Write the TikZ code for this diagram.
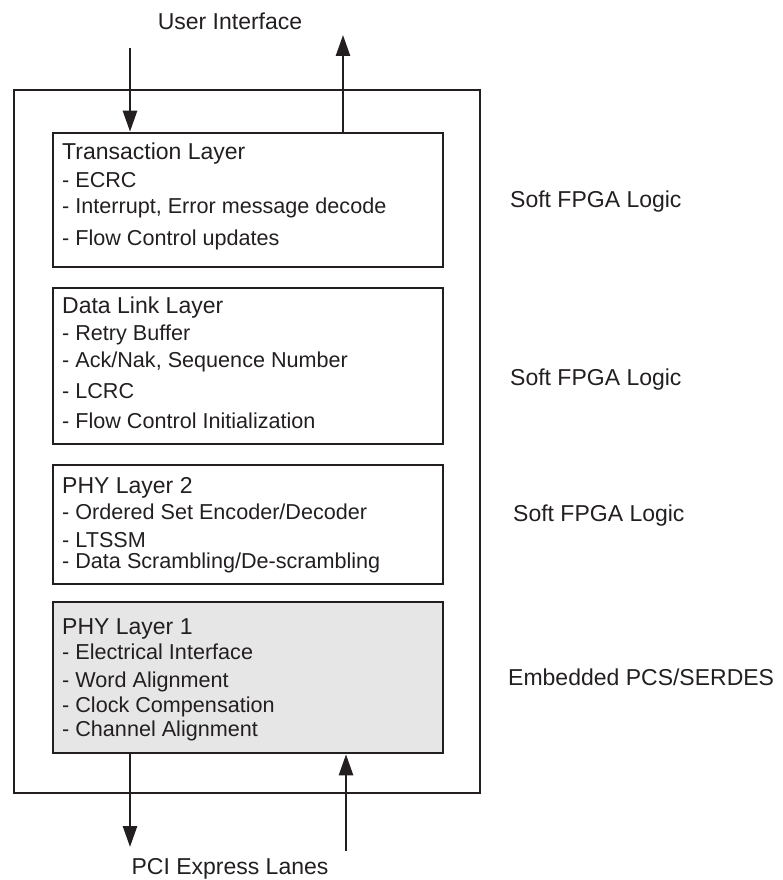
\documentclass[tikz,border=0pt]{standalone}
\usepackage{fontspec}
\setmainfont{Liberation Sans}
\usetikzlibrary{arrows.meta}
\definecolor{ink}{HTML}{231F20}
\definecolor{pcsgray}{HTML}{E6E6E6}
\tikzset{
  layer/.style={draw=ink, line width=2.6pt, minimum width=390pt, inner sep=0pt},
  ln/.style={anchor=base west, inner sep=0pt, text=ink, font=\fontsize{21.6}{26}\selectfont},
  ttl/.style={anchor=base west, inner sep=0pt, text=ink},
  side/.style={anchor=base west, inner sep=0pt, text=ink},
}
\begin{document}
\begin{tikzpicture}[x=1pt, y=-1pt, font=\fontsize{23}{27}\selectfont, line join=miter, >={Triangle[length=21pt,width=14pt]}]
\useasboundingbox (0,0) rectangle (783,880);
	% outer device and the four layers
	\node[draw=ink, line width=2.6pt, minimum width=466pt, minimum height=703pt] (fpga) at (247,441.5) {};
	\node[layer, minimum height=134pt] (tl) at (248,200) {};
	\node[layer, minimum height=156pt] (dll) at (248,366) {};
	\node[layer, minimum height=119pt] (phy2) at (248,524.5) {};
	\node[layer, minimum height=151pt, fill=pcsgray] (phy1) at (248,677.5) {};
	\node[ttl] (tltitle) at (62,159) {Transaction Layer};
	\foreach \y/\t in {187/{- ECRC}, 213/{- Interrupt, Error message decode}, 245/{- Flow Control updates}}
		\node[ln] (tl\y) at (62,\y) {\t};
	\node[ttl] (dlltitle) at (62,313) {Data Link Layer};
	\foreach \y/\t in {340/{- Retry Buffer}, 367/{- Ack/Nak, Sequence Number}, 398/{- LCRC}, 428/{- Flow Control Initialization}}
		\node[ln] (dll\y) at (62,\y) {\t};
	\node[ttl] (phybtitle) at (62,493) {PHY Layer 2};
	\foreach \y/\t in {519/{- Ordered Set Encoder/Decoder}, 547/{- LTSSM}, 568/{- Data Scrambling/De-scrambling}}
		\node[ln] (phyb\y) at (62,\y) {\t};
	\node[ttl] (phyatitle) at (62,634) {PHY Layer 1};
	\foreach \y/\t in {659/{- Electrical Interface}, 687/{- Word Alignment}, 712/{- Clock Compensation}, 736/{- Channel Alignment}}
		\node[ln] (phya\y) at (62,\y) {\t};
	% right hand notes
	\node[side] (soft1) at (510,207) {Soft FPGA Logic};
	\node[side] (soft2) at (510,385) {Soft FPGA Logic};
	\node[side] (soft3) at (513,521) {Soft FPGA Logic};
	\node[side] (pcs) at (508,685) {Embedded PCS/SERDES};
	% user side and lane side
	\node[anchor=base, inner sep=0pt, text=ink] (ui) at (230,30) {User Interface};
	\node[anchor=base, inner sep=0pt, text=ink] (lanes) at (230,874) {PCI Express Lanes};
	\coordinate (uin) at (130,48);
	\coordinate (uout) at (343,35);
	\coordinate (lout) at (130,847);
	\coordinate (lin) at (346,851);
	\draw[->, ink, line width=2.6pt] (uin) -- (uin |- tl.north);
	\draw[->, ink, line width=2.6pt] (uout |- tl.north) -- (uout);
	\draw[->, ink, line width=2.6pt] (lout |- phy1.south) -- (lout);
	\draw[->, ink, line width=2.6pt] (lin) -- (lin |- phy1.south);
\end{tikzpicture}
\end{document}
